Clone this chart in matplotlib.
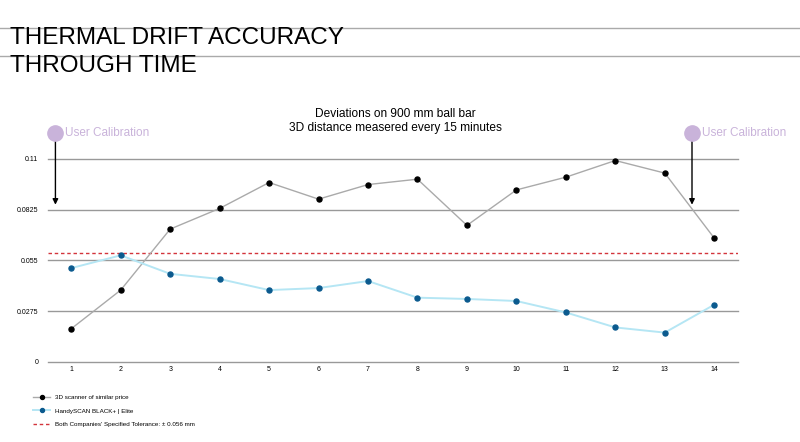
import matplotlib.pyplot as plt

# measurement index (every 15 minutes)
steps = list(range(1, 15))
similar_scanner = [0.0180, 0.0389, 0.0719, 0.0831, 0.0971, 0.0881, 0.0960,
                   0.0989, 0.0739, 0.0931, 0.1000, 0.1090, 0.1022, 0.0670]
handyscan = [0.0508, 0.0577, 0.0477, 0.0449, 0.0389, 0.0400, 0.0438,
             0.0348, 0.0341, 0.0330, 0.0268, 0.0187, 0.0159, 0.0310]
tolerance = 0.0589
y_ticks = [0, 0.0275, 0.055, 0.0825, 0.11]
y_tick_labels = ["0", "0.0275", "0.055", "0.0825", "0.11"]
calibrations = [0.68, 13.55]

plt.rcParams['font.family'] = ['Liberation Sans', 'DejaVu Sans']

fig = plt.figure(figsize=(8, 4.42), dpi=100)
ax = fig.add_axes([0.06, 0.181, 0.8625, 0.46])

# title block with rules
fig.add_artist(plt.Line2D([0, 1], [1 - 28/442, 1 - 28/442], color="#aaaaaa", lw=1))
fig.add_artist(plt.Line2D([0, 1], [1 - 56/442, 1 - 56/442], color="#aaaaaa", lw=1))
fig.text(0.013, 1 - 27/442, "THERMAL DRIFT ACCURACY", fontsize=17.5, va="top")
fig.text(0.013, 1 - 55/442, "THROUGH TIME", fontsize=17.5, va="top")

fig.text(0.494, 1 - 121/442, "Deviations on 900 mm ball bar\n3D distance measered every 15 minutes",
         ha="center", va="center", fontsize=8.6, linespacing=1.2)

for yv in y_ticks:
    ax.axhline(yv, color="#999999", lw=1, zorder=1, clip_on=False)

ax.plot(steps, similar_scanner, color="#aaaaaa", lw=1, marker="o", markersize=3.6,
        markerfacecolor="black", markeredgecolor="black", zorder=3, clip_on=False,
        label="3D scanner of similar price")
ax.plot(steps, handyscan, color="#b5e6f4", lw=1.4, marker="o", markersize=3.6,
        markerfacecolor="#0b5a8e", markeredgecolor="#0b5a8e", zorder=3, clip_on=False,
        label="HandySCAN BLACK+ | Elite")
ax.axhline(tolerance, color="#d3343c", lw=1, ls=(0, (2.5, 2)), zorder=2,
           label="Both Companies' Specified Tolerance: \u00b1 0.056 mm")

for cx in calibrations:
    ax.annotate("", xy=(cx, 0.0836), xytext=(cx, 0.1238),
                arrowprops=dict(arrowstyle="-|>", color="black", lw=1, mutation_scale=8),
                annotation_clip=False)
    ax.plot([cx], [0.1238], marker="o", markersize=11, color="#c9b3da",
            clip_on=False, zorder=4)
    ax.text(cx + 0.2, 0.1238, "User Calibration", color="#c9b3da", fontsize=8.5,
            va="center", ha="left", clip_on=False)

ax.set_xlim(0.53, 14.48)
ax.set_ylim(0, 0.11)
ax.set_xticks(steps)
ax.set_xticklabels([str(s) for s in steps], fontsize=5)
ax.set_yticks(y_ticks)
ax.set_yticklabels(y_tick_labels, fontsize=5)
ax.tick_params(axis="x", length=0, pad=3)
ax.tick_params(axis="y", length=0, pad=7)
for s in ax.spines.values():
    s.set_visible(False)

ax.legend(loc="upper left", bbox_to_anchor=(-0.03, -0.135), frameon=False,
          fontsize=4.5, handlelength=2.8, labelspacing=1.25, markerscale=0.8)

plt.savefig("out.png", dpi=100)
